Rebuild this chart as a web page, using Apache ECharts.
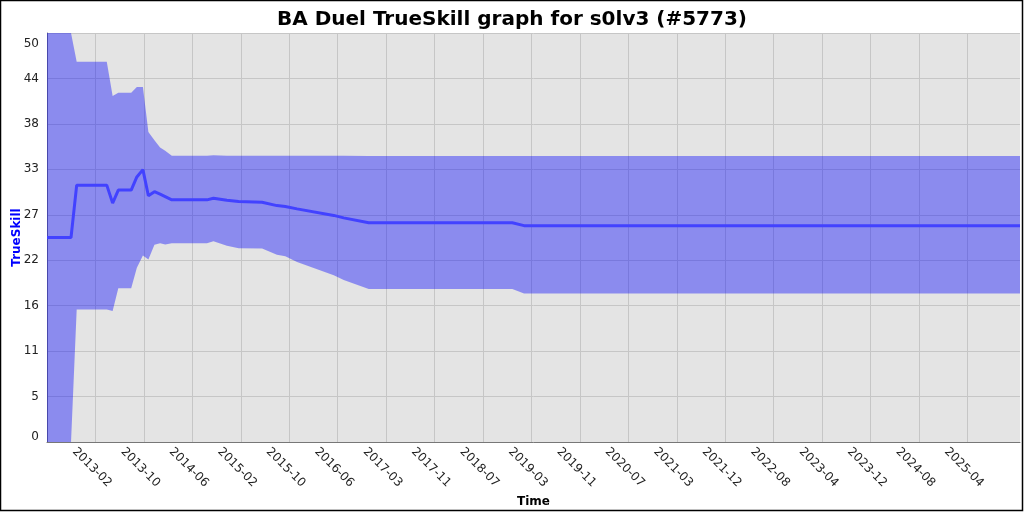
<!doctype html>
<html>
<head>
<meta charset="utf-8">
<script src="https://cdn.jsdelivr.net/npm/echarts@6/dist/echarts.min.js"></script>
<style>
  body { margin: 0; background: #fff; }
  #chart { width: 1024px; height: 512px; }
</style>
</head>
<body>
<div id="chart"></div>
<script>
// game dates and rating (mu) with the +/- 3 sigma band
var dates = ['2012-06-01', '2012-10-02', '2012-10-31', '2013-04-03', '2013-05-03', '2013-06-01',
  '2013-08-06', '2013-09-04', '2013-10-05', '2013-11-02', '2013-12-03', '2014-01-01', '2014-01-27',
  '2014-03-02', '2014-08-29', '2014-10-01', '2014-12-09', '2015-02-07', '2015-06-07', '2015-08-22',
  '2015-10-04', '2015-12-03', '2016-06-08', '2016-07-29', '2016-12-04', '2018-12-09', '2019-02-07',
  '2026-01-20'];
var mu = [25.0, 25.0, 31.4, 31.4, 29.2, 30.8, 30.8, 32.4, 33.3, 30.1, 30.6, 30.3, 30.0,
  29.6, 29.6, 29.8, 29.55, 29.4, 29.3, 28.9, 28.8, 28.5, 27.7, 27.4, 26.8, 26.8, 26.45, 26.45];
var lower = [0, 0, 16.2, 16.2, 16.0, 18.8, 18.8, 21.3, 22.8, 22.3, 24.1, 24.3, 24.15,
  24.3, 24.3, 24.55, 24.0, 23.7, 23.65, 22.9, 22.7, 22.0, 20.4, 19.8, 18.7, 18.7, 18.15, 18.15];
var upper = [50, 50, 46.5, 46.5, 42.3, 42.7, 42.7, 43.4, 43.4, 37.9, 36.9, 36.0, 35.6,
  35.0, 35.0, 35.05, 35.0, 35.0, 35.0, 35.0, 35.0, 35.0, 35.0, 35.0, 34.95, 34.95, 34.95, 34.95];

// x ticks: one every 248 days, starting 2013-02-04
var tickLabels = ['2013-02', '2013-10', '2014-06', '2015-02', '2015-10', '2016-06', '2017-03',
  '2017-11', '2018-07', '2019-03', '2019-11', '2020-07', '2021-03', '2021-12', '2022-08',
  '2023-04', '2023-12', '2024-08', '2025-04'];
var tickDates = ['2013-02-04', '2013-10-10', '2014-06-15', '2015-02-18', '2015-10-24',
  '2016-06-28', '2017-03-03', '2017-11-06', '2018-07-12', '2019-03-17', '2019-11-20',
  '2020-07-25', '2021-03-30', '2021-12-03', '2022-08-08', '2023-04-13', '2023-12-17',
  '2024-08-21', '2025-04-26'];

var origin = Date.UTC(2012, 5, 1);   // left edge of the time axis
var dayMs = 86400000;
var axisEndDays = 4981;

function toDays(s) {
  var p = s.split('-');
  return Math.round((Date.UTC(+p[0], +p[1] - 1, +p[2]) - origin) / dayMs);
}

var xs = dates.map(toDays);
var tickDays = tickDates.map(toDays);
var muData = xs.map(function (x, i) { return [x, mu[i]]; });
var bandData = xs.map(function (x, i) { return [x, lower[i], upper[i]]; });

function renderBand(params, api) {
  if (params.dataIndex !== 0) return;
  var pts = [];
  for (var i = 0; i < xs.length; i++) pts.push(api.coord([xs[i], upper[i]]));
  for (var j = xs.length - 1; j >= 0; j--) pts.push(api.coord([xs[j], lower[j]]));
  return {
    type: 'polygon',
    shape: { points: pts },
    style: { fill: 'rgba(0,0,255,0.39)' }
  };
}

var font = 'DejaVu Sans';
var chart = echarts.init(document.getElementById('chart'));
chart.setOption({
  animation: false,
  title: {
    text: 'BA Duel TrueSkill graph for s0lv3 (#5773)',
    left: 'center',
    top: 5,
    textStyle: { fontFamily: font, fontSize: 20, fontWeight: 'bold', color: '#000' }
  },
  grid: {
    left: 47, right: 4, top: 33, bottom: 70,
    outerBoundsMode: 'none',
    containLabel: false,
    show: true, backgroundColor: '#e4e4e4', borderWidth: 0
  },
  xAxis: {
    type: 'value',
    min: 0,
    max: axisEndDays,
    name: 'Time',
    nameLocation: 'middle',
    nameGap: 54,
    nameMoveOverlap: false,
    nameTextStyle: { fontFamily: font, fontSize: 12, fontWeight: 'bold', color: '#000' },
    axisLine: { show: true, lineStyle: { color: '#777', width: 1 } },
    axisTick: { show: false, customValues: tickDays },
    axisLabel: {
      customValues: tickDays,
      rotate: -45,
      align: 'center',
      verticalAlign: 'middle',
      margin: 29,
      padding: [0, 10, 0, 0],
      fontFamily: font,
      fontSize: 12,
      color: '#222',
      formatter: function (v) {
        var k = tickDays.indexOf(Math.round(v));
        return k >= 0 ? tickLabels[k] : '';
      }
    },
    splitLine: { show: true, lineStyle: { color: '#c6c6c6', width: 1 } }
  },
  yAxis: {
    type: 'value',
    min: 0,
    max: 50,
    interval: 50 / 9,
    name: 'TrueSkill',
    nameLocation: 'middle',
    nameRotate: 90,
    nameGap: 24,
    nameMoveOverlap: false,
    nameTextStyle: { fontFamily: font, fontSize: 12, fontWeight: 'bold', color: '#0000ff' },
    axisLine: { show: true, lineStyle: { color: '#777', width: 1 } },
    axisTick: { show: false },
    axisLabel: {
      margin: 8,
      fontFamily: font,
      fontSize: 12,
      color: '#222',
      formatter: function (v) {
        var s = String(Math.floor(v + 1e-6));
        if (v < 1e-6) return '{lo|' + s + '}';
        if (v > 49.99) return '{hi|' + s + '}';
        return s;
      },
      rich: {
        lo: { fontFamily: font, fontSize: 12, color: '#222', padding: [0, 0, 10, 0] },
        hi: { fontFamily: font, fontSize: 12, color: '#222', padding: [22, 0, 0, 0] }
      }
    },
    splitLine: { show: true, lineStyle: { color: '#c6c6c6', width: 1 } }
  },
  series: [
    {
      type: 'custom', data: bandData, renderItem: renderBand, clip: true, silent: true,
      encode: { x: 0, y: [1, 2] }
    },
    {
      type: 'line', data: muData, symbol: 'none',
      lineStyle: { color: '#4242ff', width: 3 }
    }
  ],
  graphic: [{
    type: 'rect',
    shape: { x: 0.5, y: 0.5, width: 1022, height: 510 },
    style: { fill: null, stroke: '#000', lineWidth: 1.5 },
    z: 100
  }]
});
</script>
</body>
</html>
